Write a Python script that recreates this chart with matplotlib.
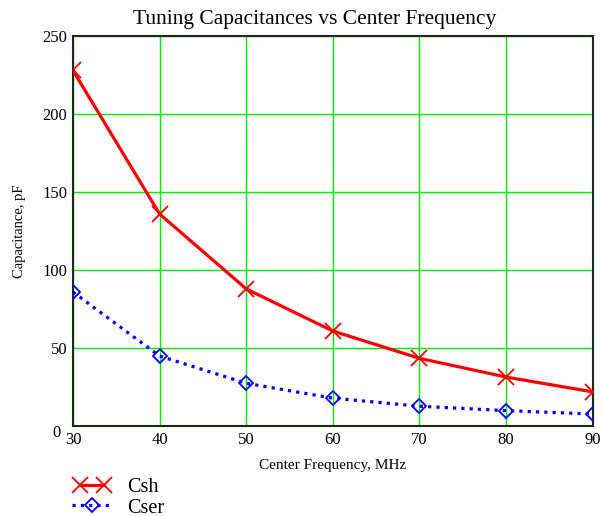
import matplotlib
matplotlib.use('Agg')
import matplotlib.pyplot as plt
from matplotlib.legend_handler import HandlerLine2D

plt.rcParams['font.family'] = ['Liberation Serif', 'DejaVu Serif']

freq = [30, 40, 50, 60, 70, 80, 90]
csh = [228, 136, 88, 61, 43.5, 31.5, 22]
cser = [86, 45, 27.5, 18, 12.8, 10, 7.8]

fig = plt.figure(figsize=(6.03, 5.16), dpi=100)
ax = fig.add_axes([0.121, 0.174, 0.862, 0.756])

l1, = ax.plot(freq, csh, color='red', lw=2.3, marker='x', ms=11, mew=1.3,
              label='Csh', zorder=4)
l2, = ax.plot(freq, cser, color='blue', lw=2.3, ls=(0, (1, 1.6)), marker='D',
              ms=7, mfc='none', mec='blue', mew=1.3, label='Cser', zorder=3)

ax.set_xlim(30, 90)
ax.set_ylim(0, 250)
ax.set_xticks(range(30, 91, 10))
ax.set_yticks(range(0, 251, 50))
ax.set_yticklabels([''] + [str(v) for v in range(50, 251, 50)])
# the zero sits a bit low and left of the corner
ax.annotate('0', xy=(0, 0), xycoords=('axes fraction', 'data'),
            xytext=(-9, -5), textcoords='offset points',
            ha='right', va='center', fontsize=12)
ax.grid(True, color='#00ee00', lw=1)
ax.set_axisbelow(True)
for s in ax.spines.values():
    s.set_color('#1a2a1a')
    s.set_linewidth(1.5)
ax.tick_params(length=0, labelsize=12)
ax.tick_params(axis='x', pad=4)
ax.tick_params(axis='y', pad=4)

fig.text(0.521, 0.962, 'Tuning Capacitances vs Center Frequency',
         ha='center', va='center', fontsize=15.5)
ax.set_xlabel('Center Frequency, MHz', fontsize=11, labelpad=8)
ax.set_ylabel('Capacitance, pF', fontsize=10.5, labelpad=12)

fig.legend(handles=[l1, l2], loc='upper left', bbox_to_anchor=(0.119, 0.073),
           frameon=False, fontsize=14.5, handlelength=2.0, handletextpad=0.75,
           labelspacing=0.05, borderaxespad=0, borderpad=0,
           handler_map={l1: HandlerLine2D(numpoints=2, marker_pad=0.4),
                        l2: HandlerLine2D(numpoints=1)})

fig.savefig('out.png', dpi=100)
